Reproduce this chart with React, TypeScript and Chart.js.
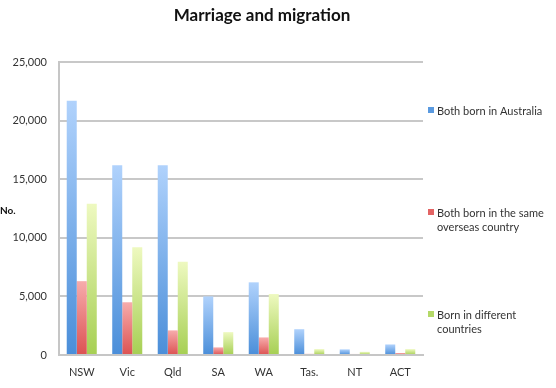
import React, { useEffect, useRef } from "react";
import { Chart, registerables } from "chart.js";

Chart.register(...registerables);

const categories = ["NSW", "Vic", "Qld", "SA", "WA", "Tas.", "NT", "ACT"];
const bornAustralia = [21700, 16200, 16200, 5000, 6200, 2200, 480, 900];
const bornSameOverseas = [6300, 4500, 2100, 650, 1500, 100, 90, 170];
const bornDifferent = [12900, 9200, 7950, 1950, 5200, 500, 270, 500];
const seriesLabels = [
  ["Both born in Australia"],
  ["Both born in the same", "overseas country"],
  ["Born in different", "countries"],
];
const yTickValues = [0, 5000, 10000, 15000, 20000, 25000];
const titleText = "Marriage and migration";
const yAxisLabel = "No.";

const FONT = "Lato, 'Open Sans', sans-serif";

const palettes = [
  { top: "#b0d2fc", bottom: "#4a8ed9", key: "#5a9ae0" },
  { top: "#f7acac", bottom: "#dc5252", key: "#e36464" },
  { top: "#eef9c0", bottom: "#a6cf53", key: "#b4d968" },
];

function barGradient(idx: number) {
  return (ctx: any) => {
    const chart = ctx.chart;
    const p = palettes[idx];
    if (!chart.chartArea || !chart.scales || !chart.scales.y || ctx.raw == null) return p.bottom;
    const y = chart.scales.y;
    const top = y.getPixelForValue(ctx.raw);
    const base = y.getPixelForValue(0);
    if (!isFinite(top) || !isFinite(base) || Math.abs(base - top) < 1) return p.bottom;
    const g = chart.ctx.createLinearGradient(0, top, 0, base);
    g.addColorStop(0, p.top);
    g.addColorStop(1, p.bottom);
    return g;
  };
}

const decorPlugin = {
  id: "decor",
  afterDraw(chart: any) {
    const c = chart.ctx;
    c.save();
    // title
    c.fillStyle = "#111";
    c.font = `bold 17px ${FONT}`;
    c.textAlign = "center";
    c.textBaseline = "middle";
    c.fillText(titleText, 262, 16);
    // y axis label
    c.font = `bold 10px ${FONT}`;
    c.textAlign = "left";
    c.fillText(yAxisLabel, 0, 211);
    // legend
    const tops = [111, 213, 315];
    c.font = `11px ${FONT}`;
    c.fillStyle = "#333";
    seriesLabels.forEach((lines, i) => {
      c.fillStyle = palettes[i].key;
      c.fillRect(428, tops[i] - 4, 6, 6);
      c.fillStyle = "#333";
      lines.forEach((ln, j) => {
        c.fillText(ln, 437, tops[i] + j * 14);
      });
    });
    c.restore();
  },
};

export default function App() {
  const ref = useRef<HTMLCanvasElement | null>(null);
  useEffect(() => {
    if (!ref.current) return;
    const chart = new Chart(ref.current, {
      type: "bar",
      data: {
        labels: categories,
        datasets: [bornAustralia, bornSameOverseas, bornDifferent].map((d, i) => ({
          label: seriesLabels[i].join(" "),
          data: d,
          backgroundColor: barGradient(i),
          borderWidth: 0,
          categoryPercentage: 0.66,
          barPercentage: 1.0,
        })),
      },
      options: {
        responsive: false,
        animation: false,
        layout: { padding: { left: 0, right: 133, top: 62, bottom: 0 } },
        plugins: {
          legend: { display: false },
          title: { display: false },
          tooltip: { enabled: false },
        },
        scales: {
          x: {
            grid: { display: false, drawTicks: false },
            border: { display: true, color: "#c6c6c6", width: 2 },
            ticks: { color: "#333", font: { family: FONT, size: 11 }, padding: 11 },
            afterFit: (s: any) => {
              s.height = 33;
            },
          },
          y: {
            min: 0,
            max: 25000,
            afterBuildTicks: (s: any) => {
              s.ticks = yTickValues.map((v) => ({ value: v }));
            },
            grid: { color: "#c8c8c8", lineWidth: 2, drawTicks: false },
            border: { display: true, color: "#c6c6c6", width: 2 },
            ticks: {
              color: "#333",
              font: { family: FONT, size: 11 },
              padding: 12,
              callback: (v: any) => Number(v).toLocaleString("en-US"),
            },
            afterFit: (s: any) => {
              s.width = 59;
            },
          },
        },
      },
      plugins: [decorPlugin],
    });
    return () => chart.destroy();
  }, []);
  return (
    <div style={{ position: "absolute", left: 0, top: 0, width: 556, height: 388, background: "#fff" }}>
      <canvas ref={ref} width={556} height={388} />
    </div>
  );
}
